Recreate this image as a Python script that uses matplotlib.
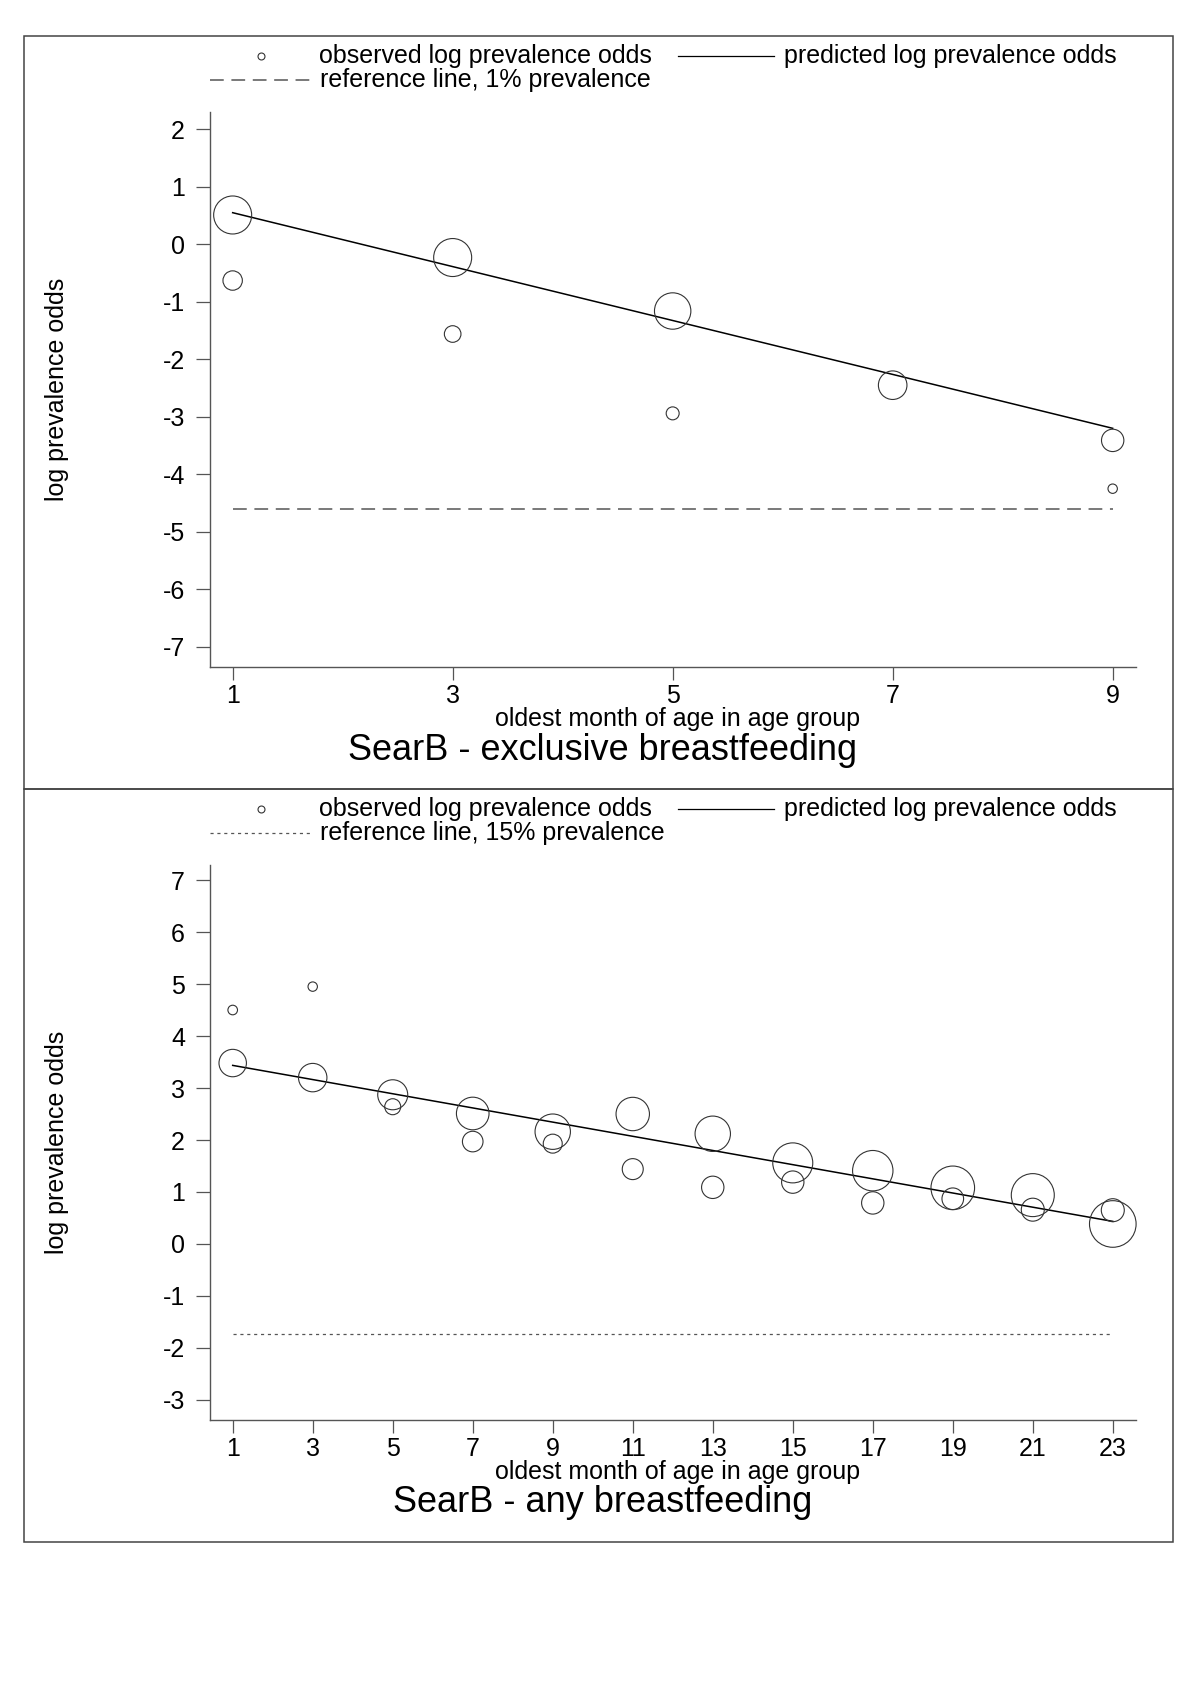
import matplotlib
matplotlib.use("Agg")
import matplotlib.pyplot as plt
from matplotlib.lines import Line2D
from matplotlib.patches import Rectangle
import numpy as np

plt.rcParams['font.family'] = ['Liberation Sans', 'DejaVu Sans']
plt.rcParams['axes.unicode_minus'] = False

# ---------------- data: exclusive breastfeeding ----------------
ex_x = [1, 1, 3, 3, 5, 5, 7, 9, 9]
ex_y = [0.51, -0.63, -0.23, -1.56, -1.16, -2.94, -2.45, -3.41, -4.25]
ex_w = [361, 94, 361, 69, 331, 42, 204, 125, 22]
ex_pred_x = [1, 9]
ex_pred_y = [0.55, -3.20]
ex_ref_y = -4.60
ex_xticks = [1, 3, 5, 7, 9]
ex_yticks = [-7, -6, -5, -4, -3, -2, -1, 0, 1, 2]
ex_title = "SearB - exclusive breastfeeding"
ex_ref_label = "reference line, 1% prevalence"

# ---------------- data: any breastfeeding ----------------
an_x = [1, 1, 3, 3, 5, 5, 7, 7, 9, 9, 11, 11,
        13, 13, 15, 15, 17, 17, 19, 19, 21, 21, 23, 23]
an_y = [3.48, 4.50, 3.20, 4.95, 2.87, 2.64, 2.51, 1.97, 2.16, 1.93, 2.50, 1.44,
        2.12, 1.09, 1.56, 1.19, 1.41, 0.79, 1.08, 0.87, 0.94, 0.66, 0.385, 0.65]
an_w = [188, 23, 202, 22, 225, 64, 266, 106, 313, 90, 279, 110,
        313, 125, 400, 125, 408, 125, 475, 117, 462, 132, 543, 132]
an_pred_x = [1, 23]
an_pred_y = [3.435, 0.435]
an_ref_y = -1.735
an_xticks = [1, 3, 5, 7, 9, 11, 13, 15, 17, 19, 21, 23]
an_yticks = [-3, -2, -1, 0, 1, 2, 3, 4, 5, 6, 7]
an_title = "SearB - any breastfeeding"
an_ref_label = "reference line, 15% prevalence"

obs_label = "observed log prevalence odds"
pred_label = "predicted log prevalence odds"
xlabel = "oldest month of age in age group"
ylabel = "log prevalence odds"

W, H = 1198, 1696
fig = plt.figure(figsize=(W / 100, H / 100), dpi=100)
fig.patch.set_facecolor('white')


def fx(x):
    return x / W


def fy(y):
    return 1 - y / H


FS = 18.0
TFS = 26
AXC = '#555555'
CIRC = '#333333'


def panel(off, x, y, w, px, py, refy, xticks, yticks, xlim, ylim, title, reflabel, refstyle):
    left, right, top, bottom = 210, 1136, 112 + off, 667 + off
    ax = fig.add_axes([fx(left), fy(bottom), fx(right - left), (bottom - top) / H])
    ax.set_xlim(*xlim)
    ax.set_ylim(*ylim)
    for s in ['top', 'right']:
        ax.spines[s].set_visible(False)
    for s in ['left', 'bottom']:
        ax.spines[s].set_color(AXC)
        ax.spines[s].set_linewidth(1.0)
    ax.set_xticks(xticks)
    ax.set_yticks(yticks)
    ax.set_xticklabels([str(t) for t in xticks])
    ax.set_yticklabels([str(t) for t in yticks])
    ax.tick_params(axis='y', length=10, width=0.9, color=AXC, pad=8, labelsize=FS)
    ax.tick_params(axis='x', length=9.5, width=0.9, color=AXC, pad=3, labelsize=FS)
    ax.plot([min(px), max(px)], [refy, refy], color='#555555', **refstyle)
    ax.plot(px, py, color='black', lw=1.1, zorder=3)
    s = [2.0736 * v for v in w]
    ax.scatter(x, y, s=s, facecolors='none', edgecolors=CIRC, linewidths=0.8,
               clip_on=False, zorder=4)

    # frame
    fig.add_artist(Rectangle((fx(24), fy(789 + off)), fx(1173 - 24), (789 - 36) / H,
                             transform=fig.transFigure, fill=False, ec='#444444', lw=1.1))
    # labels
    fig.text(fx(57), fy((top + bottom) / 2), ylabel, rotation=90, ha='center', va='center', fontsize=FS)
    fig.text(fx(678), fy(719 + off), xlabel, ha='center', va='center', fontsize=FS)
    fig.text(fx(603), fy(750 + off), title, ha='center', va='center', fontsize=TFS)

    # legend
    r1, r2 = 56 + off, 80 + off
    fig.add_artist(Line2D([fx(261)], [fy(r1)], marker='o', markersize=5, mfc='none',
                          mec=CIRC, mew=0.8, transform=fig.transFigure))
    fig.text(fx(319), fy(r1), obs_label, ha='left', va='center', fontsize=FS)
    fig.add_artist(Line2D([fx(678), fx(774)], [fy(r1), fy(r1)], color='black', lw=0.9,
                          transform=fig.transFigure))
    fig.text(fx(784), fy(r1), pred_label, ha='left', va='center', fontsize=FS)
    fig.add_artist(Line2D([fx(210), fx(312)], [fy(r2), fy(r2)], color='#555555',
                          transform=fig.transFigure, **refstyle))
    fig.text(fx(320), fy(r2), reflabel, ha='left', va='center', fontsize=FS)
    return ax


panel(0, ex_x, ex_y, ex_w, ex_pred_x, ex_pred_y, ex_ref_y, ex_xticks, ex_yticks,
      (0.794, 9.212), (-7.351, 2.301), ex_title, ex_ref_label,
      dict(lw=1.1, linestyle=(0, (9, 5))))
panel(753, an_x, an_y, an_w, an_pred_x, an_pred_y, an_ref_y, an_xticks, an_yticks,
      (0.4325, 23.58), (-3.385, 7.289), an_title, an_ref_label,
      dict(lw=0.9, linestyle=(0, (2.5, 3))))

fig.savefig('out.png', dpi=100, facecolor='white')
